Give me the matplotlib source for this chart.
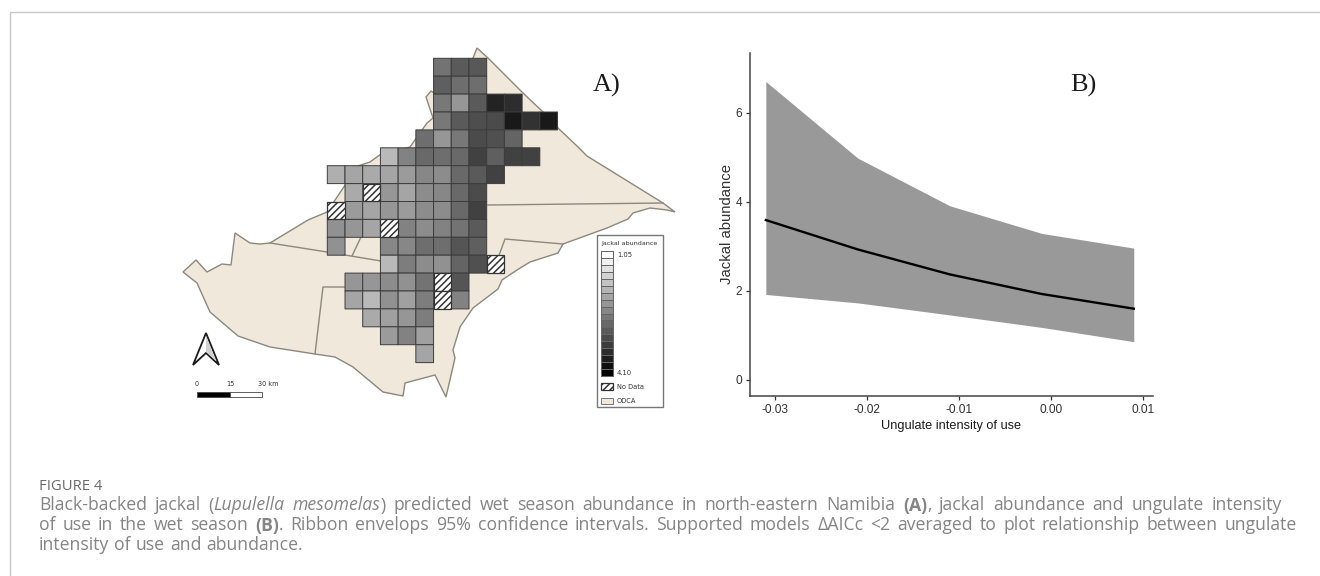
import numpy as np
import matplotlib
matplotlib.use("Agg")
import matplotlib.pyplot as plt
from matplotlib.colors import LinearSegmentedColormap, Normalize
from matplotlib.patches import Polygon, Rectangle

# ---------- Panel B data ----------
use_x = [-0.031, -0.021, -0.011, -0.001, 0.009]
abund_mean = [3.59, 2.93, 2.37, 1.93, 1.60]
abund_low = [1.92, 1.73, 1.46, 1.18, 0.86]
abund_high = [6.70, 4.98, 3.91, 3.29, 2.96]
x_ticks = [-0.03, -0.02, -0.01, 0.00, 0.01]
x_tick_labels = ["-0.03", "-0.02", "-0.01", "0.00", "0.01"]
y_ticks = [0, 2, 4, 6]

# ---------- Panel A data: predicted abundance per grid row ----------
# (first column index, values); None = no data (hatched), nan = not surveyed
n = float("nan")
row0 = (6, [2.72, 3.02, 3.05])
row1 = (6, [2.96, 2.78, 2.78])
row2 = (6, [2.66, 2.31, 3.02, 3.68, 3.56])
row3 = (6, [2.66, 3.02, 3.17, 3.20, 3.80, 3.50, 3.80])
row4 = (5, [2.78, 2.31, 2.66, 3.20, 3.14, 2.90])
row5 = (3, [1.89, 2.55, 2.84, 2.78, 2.84, 3.32, 2.96, 3.32, 3.32])
row6 = (0, [2.01, 2.13, 2.07, 2.13, 2.25, 2.49, 2.43, 2.84, 3.02, 3.32])
row7 = (0, [n, 2.07, None, 2.31, 2.13, 2.43, 2.49, 2.84, 3.20])
row8 = (0, [None, 2.25, 2.13, 2.31, 2.25, 2.43, 2.43, 2.84, 3.32])
row9 = (0, [2.37, 2.31, 2.13, None, 2.55, 2.43, 2.55, 2.72, 3.02])
row10 = (0, [2.37, n, n, 2.49, 2.49, 2.78, 2.78, 3.08, 2.96])
row11 = (3, [1.89, 2.60, 2.43, 2.37, 2.90, 3.14, None])
row12 = (1, [2.31, 2.31, 2.43, 2.37, 2.72, None, 3.08])
row13 = (1, [2.13, 1.89, 2.37, 2.19, 2.60, None, 2.55])
row14 = (2, [2.07, 2.19, 2.31, 2.60])
row15 = (3, [2.25, 2.55, 2.19])
row16 = (5, [2.13])
grid_rows = [row0, row1, row2, row3, row4, row5, row6, row7, row8, row9,
             row10, row11, row12, row13, row14, row15, row16]

legend_classes = [1.05, 1.23, 1.41, 1.59, 1.77, 1.95, 2.13, 2.31, 2.49,
                  2.67, 2.85, 3.02, 3.20, 3.38, 3.56, 3.74, 3.92, 4.10]

# Study-area outline and internal boundaries (map coordinates)
area_x = [477, 488, 523, 543, 559, 577, 587, 663, 675, 667, 650, 633, 628, 607,
          563, 558, 530, 517, 502, 498, 473, 460, 453, 455, 446, 435, 420, 405,
          403, 383, 353, 335, 315, 270, 238, 210, 197, 183, 196, 207, 222, 231,
          235, 250, 260, 270, 308, 327, 358, 370, 381, 410, 427, 433, 426, 431,
          434, 473]
area_y = [48, 58, 93, 112, 129, 146, 156, 203, 212, 210, 208, 213, 219, 228,
          244, 253, 262, 270, 280, 289, 308, 327, 350, 358, 397, 375, 379, 383,
          396, 392, 367, 357, 354, 347, 336, 312, 283, 272, 260, 272, 264, 265,
          233, 243, 244, 243, 220, 212, 166, 162, 154, 147, 123, 118, 97, 91,
          93, 58]
border1_x = [488, 663]
border1_y = [205, 203]
border2_x = [563, 505, 498]
border2_y = [244, 239, 258]
border3_x = [270, 327, 381]
border3_y = [243, 252, 261]
border4_x = [352, 361]
border4_y = [256, 237]
border5_x = [345, 323, 315]
border5_y = [287, 287, 354]

# ---------- Figure ----------
plt.rcParams["font.family"] = ["Liberation Sans", "DejaVu Sans"]
plt.rcParams["hatch.linewidth"] = 1.1
plt.rcParams["hatch.color"] = "#4a4a4a"
fig = plt.figure(figsize=(13.2, 5.76), dpi=100, facecolor="white")
W, H = 1320, 576

page = fig.add_axes([0, 0, 1, 1])
page.set_xlim(0, W)
page.set_ylim(H, 0)
page.axis("off")

# Frame
page.plot([9.5, 9.5, W], [H, 11.5, 11.5], color="#c8c8c8", lw=1.0,
          solid_joinstyle="miter", solid_capstyle="butt")

# Map
BEIGE = "#f0e8da"
LINE = "#8c887c"
page.add_patch(Polygon(np.column_stack([area_x, area_y]), closed=True,
                       facecolor=BEIGE, edgecolor=LINE, lw=1.0))
for bx, by in [(border1_x, border1_y), (border2_x, border2_y), (border3_x, border3_y),
               (border4_x, border4_y), (border5_x, border5_y)]:
    page.plot(bx, by, color=LINE, lw=1.0)

cmap = LinearSegmentedColormap.from_list("jackal", ["#ffffff", "#000000"])
norm = Normalize(1.05, 4.10)
X0, DX, Y0, DY = 327.3, 17.71, 58.3, 17.9
ncols, nrows = 13, len(grid_rows)
grid = np.full((nrows, ncols), np.nan)
for j, (start, vals) in enumerate(grid_rows):
    for k, v in enumerate(vals):
        i = start + k
        if v is None:
            page.add_patch(Rectangle((X0 + i * DX, Y0 + j * DY), DX, DY, facecolor="white",
                                     edgecolor="#333333", lw=0.9, hatch="/////", zorder=3))
        else:
            grid[j, i] = v
xe = X0 + DX * np.arange(ncols + 1)
ye = Y0 + DY * np.arange(nrows + 1)
page.pcolor(xe, ye, np.ma.masked_invalid(grid), cmap=cmap, norm=norm,
            edgecolors="#3c3c3c", linewidth=0.7, zorder=2.5)
page.set_xlim(0, W)
page.set_ylim(H, 0)

page.text(593, 92, "A)", family="Liberation Serif", fontsize=19, color="#1a1a1a", va="baseline")

# North arrow
page.add_patch(Polygon([(206, 333), (193, 365), (206, 353), (219, 365)], closed=True,
                       facecolor="white", edgecolor="#1a1a1a", lw=1.3, zorder=3))
page.add_patch(Polygon([(206, 336), (206, 352), (216, 361)], closed=True,
                       facecolor="#d0d0d0", edgecolor="none", zorder=3))
# Scale bar
page.add_patch(Rectangle((197, 392), 33, 5, facecolor="black", edgecolor="#444444", lw=0.6, zorder=3))
page.add_patch(Rectangle((230, 392), 32, 5, facecolor="white", edgecolor="#444444", lw=0.6, zorder=3))
for sx, s in [(197, "0"), (230, "15"), (268, "30 km")]:
    page.text(sx, 384, s, fontsize=4.7, family="DejaVu Sans", color="#333333",
              ha="center", va="center")

# Map legend
page.add_patch(Rectangle((597, 235), 66, 172, facecolor="white", edgecolor="#777777", lw=1.0, zorder=3))
page.text(601, 243.5, "Jackal abundance", fontsize=4.6, family="DejaVu Sans", color="#333333",
          va="center", zorder=4)
lx0, lx1 = 601, 613
ly = np.linspace(251, 376, len(legend_classes) + 1)
page.pcolormesh([lx0, lx1], ly, np.array(legend_classes)[:, None], cmap=cmap, norm=norm,
                edgecolors="#666666", linewidth=0.4, zorder=4)
page.set_xlim(0, W)
page.set_ylim(H, 0)
page.text(617, 255, "1.05", fontsize=4.9, family="DejaVu Sans", color="#333333", va="center", zorder=4)
page.text(617, 373, "4.10", fontsize=4.9, family="DejaVu Sans", color="#333333", va="center", zorder=4)
page.add_patch(Rectangle((601, 383), 12, 7, facecolor="white", edgecolor="#333333", lw=0.9,
                         hatch="/////", zorder=4))
page.text(617, 387, "No Data", fontsize=4.8, family="DejaVu Sans", color="#333333", va="center", zorder=4)
page.add_patch(Rectangle((601, 398), 12, 6, facecolor=BEIGE, edgecolor="#777777", lw=0.7, zorder=4))
page.text(617, 401, "ODCA", fontsize=4.8, family="DejaVu Sans", color="#333333", va="center", zorder=4)

# Panel B axes
left, right, top, bottom = 750, 1153, 53, 396
ax = fig.add_axes([left / W, 1 - bottom / H, (right - left) / W, (bottom - top) / H])
ax.patch.set_alpha(0)
ax.fill_between(use_x, abund_low, abund_high, color="#999999", lw=0)
ax.plot(use_x, abund_mean, color="black", lw=1.7)
ax.set_xlim(-0.03272, 0.01109)
ax.set_ylim(-0.36, 7.34)
ax.set_xticks(x_ticks, x_tick_labels)
ax.set_yticks(y_ticks)
for s in ("top", "right"):
    ax.spines[s].set_visible(False)
for s in ("left", "bottom"):
    ax.spines[s].set_color("#444444")
    ax.spines[s].set_linewidth(1.1)
ax.tick_params(colors="#333333", labelsize=8.6, length=3, width=0.9, pad=2.5)
ax.set_xlabel("Ungulate intensity of use", fontsize=9.2, color="#1a1a1a", labelpad=3)
ax.set_ylabel("Jackal abundance", fontsize=10.7, color="#333333", labelpad=1)
page.text(1070, 92, "B)", family="Liberation Serif", fontsize=19, color="#1a1a1a", va="baseline")

# Caption
CAP = "#858585"
FS = 12.7
renderer = fig.canvas.get_renderer()
def runs(x, y, parts, end):
    # lay the words out one by one; glued runs keep no gap, other gaps are spread to reach `end`
    tokens = []
    prev_space = True
    for s, kw in parts:
        for idx, w in enumerate(s.split(" ")):
            if w:
                glue = (idx == 0) and not prev_space
                tokens.append((w, kw, glue))
        prev_space = s.endswith(" ")
    arts = [page.text(0, y, w, fontsize=FS, family="Open Sans", color=CAP, va="baseline", **kw)
            for w, kw, _ in tokens]
    widths = [a.get_window_extent(renderer).width for a in arts]
    ngaps = sum(1 for t in tokens[1:] if not t[2])
    gap = 5.0 if end is None else (end - x - sum(widths)) / ngaps
    for i, (a, wd) in enumerate(zip(arts, widths)):
        if i and not tokens[i][2]:
            x += gap
        a.set_x(x)
        x += wd

page.text(39, 490, "FIGURE 4", fontsize=10.6, family="Open Sans", color="#6a6a6a", va="baseline")
runs(39, 510.5, [("Black-backed jackal (", {}), ("Lupulella mesomelas", {"style": "italic"}),
                 (") predicted wet season abundance in north-eastern Namibia ", {}),
                 ("(A)", {"weight": "bold"}), (", jackal abundance and ungulate intensity", {})], 1282)
runs(39, 530.5, [("of use in the wet season ", {}), ("(B)", {"weight": "bold"}),
                 (". Ribbon envelops 95% confidence intervals. Supported models \u0394AICc <2 averaged to plot relationship between ungulate", {})], 1297)
runs(39, 550.5, [("intensity of use and abundance.", {})], None)

fig.savefig("out.png", dpi=100, facecolor="white")
